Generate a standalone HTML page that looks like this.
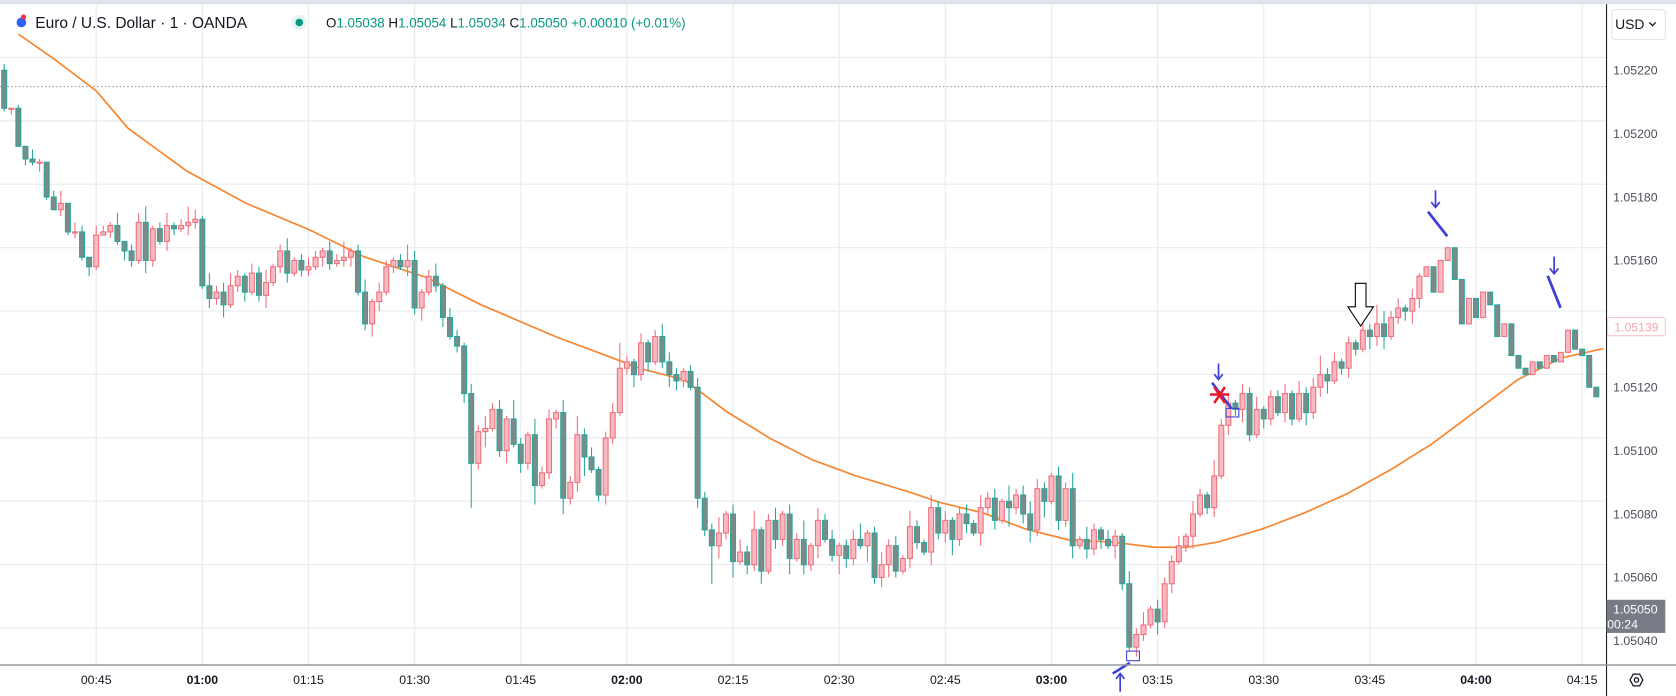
<!DOCTYPE html>
<html><head><meta charset="utf-8">
<style>
html,body{margin:0;padding:0;background:#fff;width:1676px;height:696px;overflow:hidden;}
svg{display:block;font-family:"Liberation Sans",sans-serif;}
</style></head>
<body>
<svg id="chart" width="1676" height="696" viewBox="0 0 1568 651" preserveAspectRatio="none" xmlns="http://www.w3.org/2000/svg">
<rect x="0" y="0" width="1568" height="651" fill="#fff"/>
<rect x="0" y="0" width="1568" height="4" fill="#e0e3eb"/>
<g id="grid"></g>
<line x1="0" y1="81" x2="1503" y2="81" stroke="#9598a1" stroke-width="1" stroke-dasharray="1.5,2"/>
<g id="ma"></g>
<g id="candles"></g>
<g id="annotations">
  <g stroke="#3d3fd6" stroke-width="1.6" fill="none">
    <line x1="1343" y1="178" x2="1343" y2="194"/><polyline points="1339,189 1343,194 1347,189"/>
    <line x1="1336" y1="198" x2="1354" y2="221" stroke-width="2.6"/>
  </g>
  <g stroke="#3d3fd6" stroke-width="1.6" fill="none">
    <line x1="1454" y1="240" x2="1454" y2="256"/><polyline points="1450,251 1454,256 1458,251"/>
    <line x1="1448" y1="258" x2="1460" y2="288" stroke-width="2.6"/>
  </g>
  <g stroke="#3d3fd6" stroke-width="1.6" fill="none">
    <line x1="1140" y1="340" x2="1140" y2="355"/><polyline points="1136,350 1140,355 1144,350"/>
    <line x1="1134" y1="358" x2="1152" y2="382" stroke-width="2.4"/>
    <rect x="1147" y="382" width="12" height="8" stroke-width="1"/>
  </g>
  <g stroke="#e8172b" stroke-width="2.4">
    <line x1="1132" y1="369" x2="1150" y2="369"/><line x1="1136" y1="362" x2="1146" y2="377"/><line x1="1146" y1="362" x2="1136" y2="377"/>
  </g>
  <g stroke="#3d3fd6" stroke-width="1.6" fill="none">
    <rect x="1054" y="609" width="12" height="9" stroke-width="1"/>
    <line x1="1041" y1="630" x2="1057" y2="620" stroke-width="2.4"/>
    <line x1="1048" y1="647" x2="1048" y2="630"/><polyline points="1044,635 1048,630 1052,635"/>
  </g>
  <polygon points="1268,265 1278,265 1278,287 1285,287 1273,305 1261,287 1268,287" fill="#fff" stroke="#000" stroke-width="1"/>
</g>
<line x1="1503" y1="4" x2="1503" y2="651" stroke="#131722" stroke-width="1"/>
<line x1="0" y1="622" x2="1568" y2="622" stroke="#9598a1" stroke-width="1.5"/>
<g id="yticks"></g>
<g id="xticks"></g>
<g>
  <rect x="1503" y="561" width="55" height="31" fill="#787b86"/>
  <text x="1530" y="574" font-size="11.5" fill="#fff" text-anchor="middle">1.05050</text>
  <text x="1518" y="588" font-size="11.5" fill="#fff" text-anchor="middle">00:24</text>
</g>
<g>
  <rect x="1504" y="297" width="54" height="17" fill="#fff" stroke="#f7c6cc" rx="2"/>
  <text x="1531" y="310" font-size="11.5" fill="#f4a6b0" text-anchor="middle">1.05139</text>
</g>
<g>
  <rect x="1508" y="9" width="50" height="28" rx="3" fill="#fff" stroke="#e0e3eb"/>
  <text x="1511" y="27" font-size="13" fill="#131722">USD</text>
  <path d="M1543,21 l3,3 l3,-3" stroke="#131722" fill="none" stroke-width="1.2"/>
</g>
<g transform="translate(1531,636)">
  <polygon points="-6,0 -3,-5.5 3,-5.5 6,0 3,5.5 -3,5.5" fill="none" stroke="#131722" stroke-width="1.2"/>
  <circle r="2" fill="none" stroke="#131722" stroke-width="1.2"/>
</g>
<g>
  <circle cx="20" cy="21" r="4.5" fill="#2962ff"/>
  <circle cx="22" cy="16" r="2.5" fill="#f23645"/>
  <text x="33" y="26" font-size="14.5" fill="#131722">Euro / U.S. Dollar · 1 · OANDA</text>
  <circle cx="280" cy="21" r="7" fill="#e3f4f1"/><circle cx="280" cy="21" r="3.5" fill="#089981"/>
  <text x="305" y="25.5" font-size="12.5" fill="#131722">O<tspan fill="#089981">1.05038</tspan> H<tspan fill="#089981">1.05054</tspan> L<tspan fill="#089981">1.05034</tspan> C<tspan fill="#089981">1.05050</tspan> <tspan fill="#089981">+0.00010 (+0.01%)</tspan></text>
</g>
</svg>
<script>
const closes = [208,208,196,192,191, 191,180,176,178,169, 169,161,158,168,169, 171,166,163,160,172, 160,170,166,171,170,
171,172,173,152,148, 150,146,152,155,150, 156,149,153,158,163, 156,160,157,158,161, 163,159,160,161,163,
150,140,147,150,158, 160,158,160,145,150, 155,152,142,136,133, 118,96,106,107,113, 100,110,102,96,105,
89,93,110,112,85, 90,105,98,94,86, 104,112,126,128,124, 134,128,136,128,124, 122,125,120,85,75,
70,74,80,65,68, 64,75,62,78,72, 80,66,72,64,70, 78,72,67,70,66, 72,70,74,60,64,
70,62,66,76,71, 68,82,74,78,72, 80,77,74,82,85, 78,84,82,86,80, 75,88,84,92,78,
88,70,72,69,75, 72,70,73,58,38, 42,45,50,46,58, 65,70,73,80,86, 82,92,108,115,113,
118,105,113,110,117, 112,118,110,118,112, 120,124,122,128,126, 134,132,138,136,140, 136,142,145,144,148,
155,158,150,160,164, 154,140,148,142,150, 146,136,140,130,126, 124,128,126,130,128, 131,138,132,130,120, 117];
const firstOpen = 220;
const wickUp = [2,0,1,0,3, 1,0,2,4,0, 3,2,0,3,2, 1,4,0,2,3, 5,1,2,4,1, 2,5,3,1,4, 2,3,4,2,1, 3,2,4,1,2, 4,1,2,3,2, 1,3,2,5,1,
2,4,1,3,2, 1,2,5,3,1, 2,4,1,3,2, 1,3,2,4,2, 3,1,6,2,1, 5,2,3,1,4, 2,6,2,3,1, 2,3,8,2,1, 3,1,2,4,3, 2,1,2,3,2,
2,5,1,3,4, 2,6,1,2,4, 1,3,2,6,1, 4,2,3,1,2, 3,5,1,2,4, 2,3,1,5,2, 1,4,2,3,1, 2,3,1,4,2, 3,1,5,2,3,
4,3,2,1,3, 2,5,1,4,2, 1,3,2,1,4, 2,4,1,3,2, 2,3,1,4,2, 1,5,2,3,1, 3,2,4,1,2, 2,3,1,4,2, 3,6,2,3,1, 2,1,3,2,6, 4,2,3,1,3, 1];
const wickDn = [1,2,0,2,1, 3,1,0,2,1, 2,1,3,1,0, 2,1,3,2,1, 4,2,1,3,2, 1,3,2,1,3, 2,4,1,2,3, 1,2,4,1,2, 3,1,2,2,1, 3,2,1,2,3,
1,2,4,3,1, 2,1,3,2,4, 1,2,3,1,2, 3,14,2,5,1, 2,4,1,3,2, 6,1,2,3,5, 2,3,6,1,2, 3,2,1,2,4, 2,3,1,2,4, 3,2,1,3,2,
12,4,2,5,1, 3,2,4,1,3, 2,5,1,3,2, 4,1,2,6,3, 2,1,5,2,3, 4,2,1,3,2, 1,4,2,3,5, 2,3,1,4,2, 3,1,6,2,3,
4,2,5,1,3, 2,4,1,3,2, 3,1,4,2,1, 3,2,1,4,2, 3,1,2,4,1, 2,3,1,3,2, 4,2,1,3,2, 1,3,2,1,4, 2,3,4,1,2, 3,2,1,4,3, 4,1,2,3,4, 3];
const firstMinute = 32;
const maMinutes = [34,39,45,49.5,57.8,66.1,75.2,82.8,91.8,99.4,110,116,122,128.1,134.1,140.2,146.2,152.3,159.8,164.3,170.4,176.4,182.5,188.5,194.5,199.1,203.6,209.7,215.7,221.7,227.8,233.8,239.9,245.9,252,258];
const maValues = [231.4,223.6,213.5,201.7,188.2,178.1,169.6,161.2,154.5,146,135.9,130.9,125.8,122.4,112.3,103.9,97.1,92.1,87,83.6,80.3,75.2,71.8,71.2,69.5,69.5,71.2,75.2,80.3,86.3,93.8,102.2,112.3,122.4,129.2,132.2];
const priceTicks = [220,200,180,160,120,100,80,60,40];
const gridPrices = [220,200,180,160,140,120,100,80,60,40];
const timeTickMinutes = [45,60,75,90,105,120,135,150,165,180,195,210,225,240,255];
const timeTickLabels = ["00:45","01:00","01:15","01:30","01:45","02:00","02:15","02:30","02:45","03:00","03:15","03:30","03:45","04:00","04:15"];
const boldTicks = ["01:00","02:00","03:00","04:00"];

const NS = "http://www.w3.org/2000/svg";
function X(m){ return 90 + (m-45)*6.62; }
function Y(v){ return 125 + (200 - v)*2.965; }
function mk(tag, attrs, parent){ const e=document.createElementNS(NS,tag); for(const k in attrs) e.setAttribute(k,attrs[k]); parent.appendChild(e); return e; }

const grid = document.getElementById('grid');
gridPrices.forEach(p=>{
  const l = mk('line',{x1:0,x2:1503,y1:Y(p)-12,y2:Y(p)-12,stroke:'#e9eef3','stroke-width':1.2},grid);
  
  
});
timeTickMinutes.forEach(m=>{
  const l = mk('line',{x1:X(m),x2:X(m),y1:4,y2:622,stroke:'#e9eef3','stroke-width':1.2},grid);
  
  
});

const yt = document.getElementById('yticks');
priceTicks.forEach(p=>{
  const t = mk('text',{x:1530,y:Y(p)+4,'font-size':11.5,fill:'#4a4e59','text-anchor':'middle'},yt);
  t.textContent = (1.05 + p/100000).toFixed(5);
  
  
});
const xt = document.getElementById('xticks');
timeTickMinutes.forEach((m,i)=>{
  const b = boldTicks.includes(timeTickLabels[i]);
  const t = mk('text',{x:X(m),y:640,'font-size':11.5,fill:'#131722','text-anchor':'middle','font-weight':b?'bold':'normal'},xt);
  t.textContent = timeTickLabels[i];
  
  
});

const ma = document.getElementById('ma');
const maPath = mk('polyline',{points:maMinutes.map((m,i)=>X(m).toFixed(1)+','+Y(maValues[i]).toFixed(1)).join(' '),fill:'none',stroke:'#f7862f','stroke-width':1.6},ma);



const cg = document.getElementById('candles');
closes.forEach((c,i)=>{
  const o = i===0 ? firstOpen : closes[i-1];
  const hi = Math.max(o,c) + wickUp[i];
  const lo = Math.min(o,c) - wickDn[i];
  const up = c >= o;
  const x = X(firstMinute + i);
  const stroke = up ? '#ef6f7c' : '#26a69a';
  const fill = up ? '#f8b9c2' : '#7d8b88';
  const g = mk('g',{},cg);
  
  
  mk('line',{x1:x,x2:x,y1:Y(hi),y2:Y(lo),stroke:stroke,'stroke-width':1},g);
  const top = Y(Math.max(o,c)), bot = Y(Math.min(o,c));
  mk('rect',{x:x-2.3,y:top,width:4.6,height:Math.max(1,bot-top),fill:fill,stroke:stroke,'stroke-width':1},g);
});
</script>
</body></html>
